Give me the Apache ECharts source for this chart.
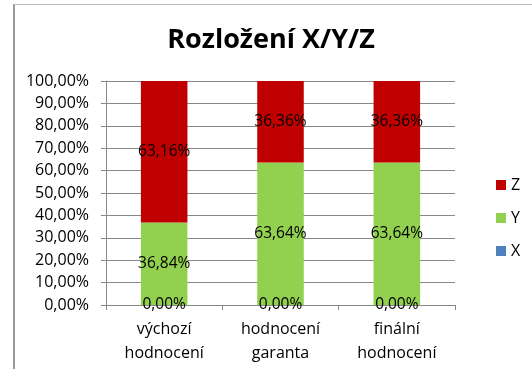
<!DOCTYPE html>
<html>
<head>
<meta charset="utf-8">
<script src="https://cdn.jsdelivr.net/npm/echarts@6/dist/echarts.min.js"></script>
<style>
  html, body { margin: 0; padding: 0; background: #fff; }
  #chart { width: 532px; height: 369px; }
</style>
</head>
<body>
<div id="chart"></div>
<script>
// Categories and stacked shares (percent)
const categories = ['výchozí\nhodnocení', 'hodnocení\ngaranta', 'finální\nhodnocení'];
const seriesNames = ['X', 'Y', 'Z'];
const valuesX = [0, 0, 0];
const valuesY = [36.84, 63.64, 63.64];
const valuesZ = [63.16, 36.36, 36.36];
const colors = { X: '#4f81bd', Y: '#92d050', Z: '#c00000' };

const FONT = '"Open Sans", sans-serif';
const fmtPct = v => v.toFixed(2).replace('.', ',') + '%';

const chart = echarts.init(document.getElementById('chart'), null, { renderer: 'canvas' });

function barSeries(name, data) {
  return {
    name: name,
    type: 'bar',
    stack: 'total',
    data: data,
    barCategoryGap: '60%',
    itemStyle: { color: colors[name] },
    label: {
      show: true,
      position: 'inside',
      color: '#000',
      fontFamily: FONT,
      fontSize: 15.5,
      formatter: p => fmtPct(p.value)
    },
    emphasis: { disabled: true }
  };
}

chart.setOption({
  animation: false,
  title: {
    text: 'Rozložení X/Y/Z',
    left: 266,
    textAlign: 'center',
    top: 22,
    textStyle: { fontFamily: FONT, fontSize: 27, fontWeight: 'bold', color: '#000' }
  },
  legend: {
    data: ['Z', 'Y', 'X'],
    orient: 'vertical',
    left: 491,
    top: 172,
    itemWidth: 10,
    itemHeight: 10,
    itemGap: 17,
    icon: 'rect',
    textStyle: { fontFamily: FONT, fontSize: 16, color: '#000' }
  },
  grid: { left: 106, right: 77, top: 81, bottom: 64 },
  xAxis: {
    type: 'category',
    data: categories,
    axisLine: { lineStyle: { color: '#888' } },
    axisTick: { show: true, length: 5, lineStyle: { color: '#888' } },
    axisLabel: { fontFamily: FONT, fontSize: 16, color: '#000', lineHeight: 24, margin: 12 }
  },
  yAxis: {
    type: 'value',
    min: 0,
    max: 100,
    interval: 10,
    axisLine: { show: true, lineStyle: { color: '#888' } },
    axisTick: { show: true, length: 5, lineStyle: { color: '#888' } },
    splitLine: { lineStyle: { color: '#888' } },
    axisLabel: { fontFamily: FONT, fontSize: 16, color: '#000', margin: 17, formatter: fmtPct }
  },
  graphic: [
    { type: 'line', shape: { x1: 14, y1: 4, x2: 14, y2: 369 }, style: { stroke: '#999', lineWidth: 2 } },
    { type: 'line', shape: { x1: 14, y1: 4.5, x2: 532, y2: 4.5 }, style: { stroke: '#bbb', lineWidth: 1 } }
  ],
  series: [
    barSeries('X', valuesX),
    barSeries('Y', valuesY),
    barSeries('Z', valuesZ)
  ]
});
</script>
</body>
</html>
